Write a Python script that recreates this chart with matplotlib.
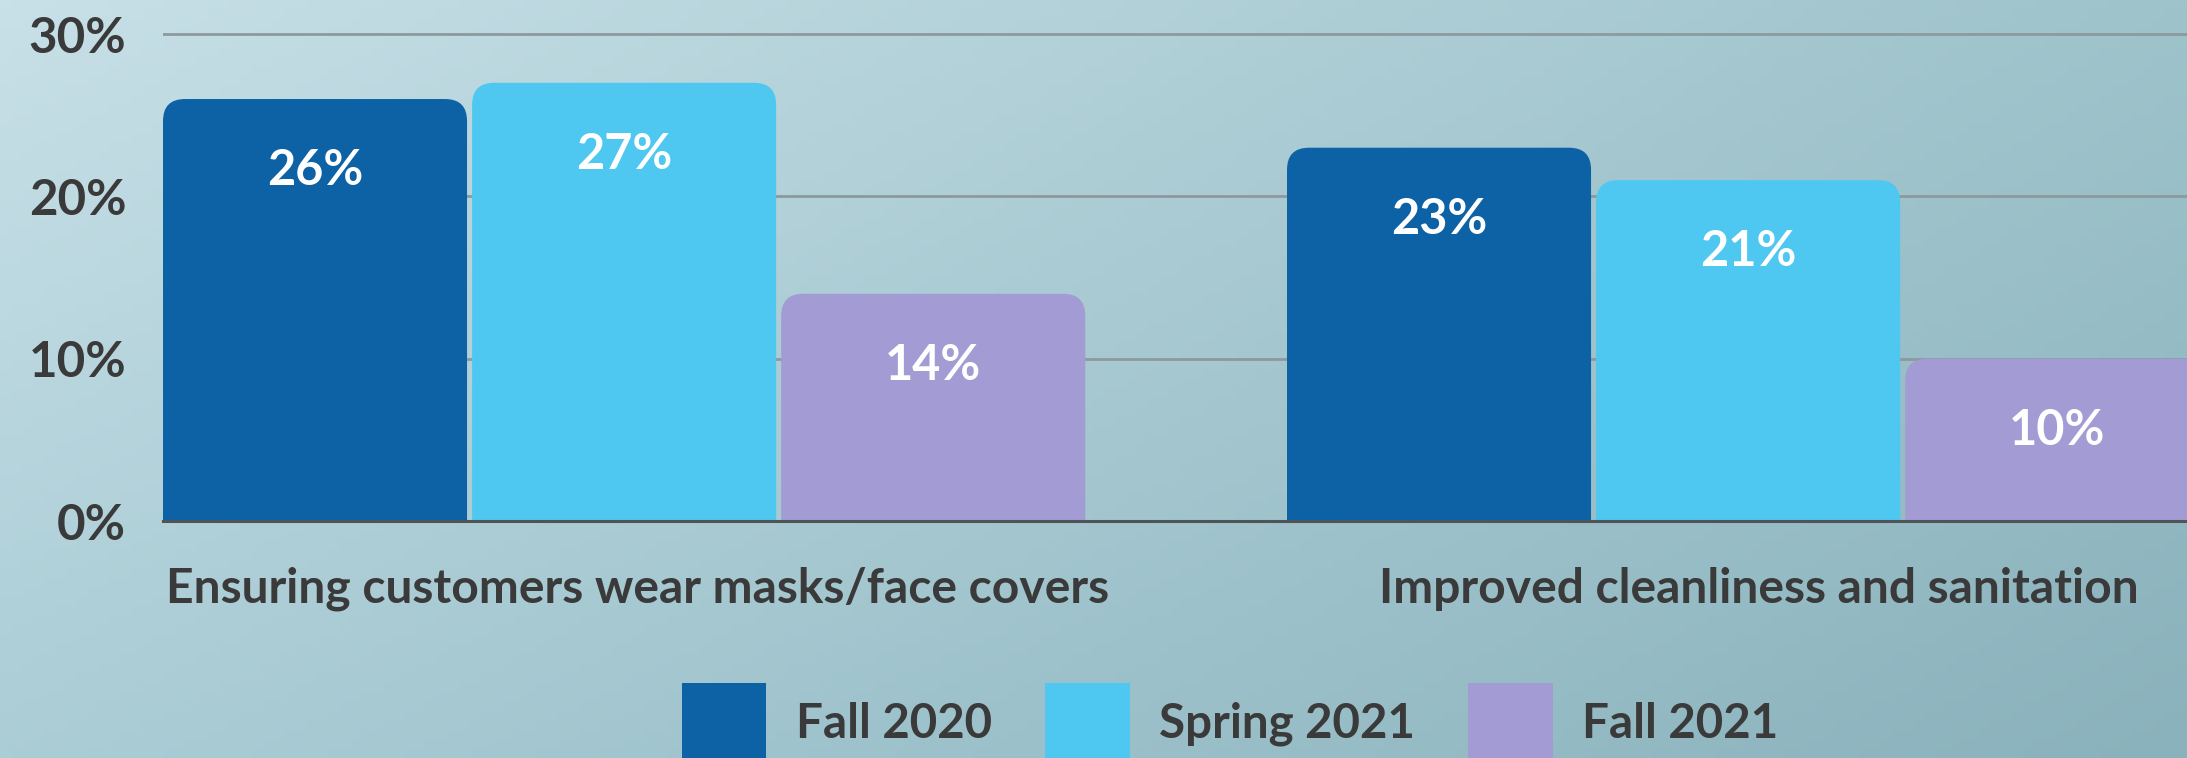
import numpy as np
import matplotlib.pyplot as plt
from matplotlib.patches import FancyBboxPatch, Patch
from matplotlib.colors import to_rgb

categories = ["Ensuring customers wear masks/face covers",
              "Improved cleanliness and sanitation"]
seasons = ["Fall 2020", "Spring 2021", "Fall 2021"]
values = {
    "Fall 2020": [26, 23],
    "Spring 2021": [27, 21],
    "Fall 2021": [14, 10],
}
yticks = [0, 10, 20, 30]
ytick_labels = ["0%", "10%", "20%", "30%"]

colors = ["#0d62a6", "#4ec8f0", "#a39bd3"]
text_dark = "#3a3a3a"

W, H = 2187, 758
plt.rcParams['font.family'] = ['Lato', 'DejaVu Sans']
plt.rcParams['font.weight'] = 'bold'

fig = plt.figure(figsize=(W / 100, H / 100), dpi=100)

# soft diagonal backdrop
bg = fig.add_axes([0, 0, 1, 1], zorder=-10)
bg.axis('off')
tl, tr = np.array(to_rgb("#c8e0e7")), np.array(to_rgb("#9ec3cb"))
bl, br = np.array(to_rgb("#abcdd6")), np.array(to_rgb("#8ab2bc"))
gx = np.linspace(0, 1, 200)[None, :, None]
gy = np.linspace(0, 1, 80)[:, None, None]
grad = (1 - gy) * ((1 - gx) * tl + gx * tr) + gy * ((1 - gx) * bl + gx * br)
bg.imshow(grad, aspect='auto', extent=[0, 1, 0, 1])

ax_left, ax_bottom = 163 / W, (H - 521) / H
ax = fig.add_axes([ax_left, ax_bottom, 1 - ax_left, 1 - ax_bottom])
ax.patch.set_alpha(0)

pitch = 0.275
bw = 0.2705
px_per_x = 1124
xmin = -pitch - bw / 2
ax.set_xlim(xmin, xmin + (W - 163) / px_per_x)
ymax = 521 / 16.23
ax.set_ylim(0, ymax)

# rounded top corners, roughly 22 px radius
rx = 22 / px_per_x
ry = 22 / 16.23

for k, s in enumerate(seasons):
    for g, v in enumerate(values[s]):
        x0 = g + (k - 1) * pitch - bw / 2
        patch = FancyBboxPatch((x0 + rx, -5), bw - 2 * rx, v + 5 - ry,
                               boxstyle=f"round,pad={rx},rounding_size={rx}",
                               mutation_aspect=ry / rx,
                               facecolor=colors[k], edgecolor='none',
                               zorder=3, clip_on=True)
        ax.add_patch(patch)
        ax.text(g + (k - 1) * pitch, v - 4.4, f"{v}%", color='white',
                fontsize=35, fontweight='bold', ha='center', va='center',
                zorder=4)

for t in yticks[1:]:
    ax.axhline(t, color="#8c9a9e", lw=2, zorder=1)
ax.axhline(0, color="#4f5456", lw=2.2, zorder=5, clip_on=False)

for sp in ax.spines.values():
    sp.set_visible(False)

ax.set_yticks(yticks)
ax.set_yticklabels(ytick_labels)
ax.tick_params(axis='y', length=0, pad=26.5, labelsize=35.5, labelcolor=text_dark)
ax.set_xticks([0.012, 1.01])
ax.set_xticklabels(categories)
ax.tick_params(axis='x', length=0, pad=33, labelsize=34.6, labelcolor=text_dark)

handles = [Patch(facecolor=c, edgecolor='none', label=s)
           for c, s in zip(colors, seasons)]
fig.legend(handles=handles, loc='center', bbox_to_anchor=(0.5625, 0.046),
           ncol=3, frameon=False, fontsize=34.2, handlelength=1.78,
           handleheight=2.25, handletextpad=0.62, columnspacing=1.12,
           labelcolor=text_dark)

fig.savefig("out.png", dpi=100)
